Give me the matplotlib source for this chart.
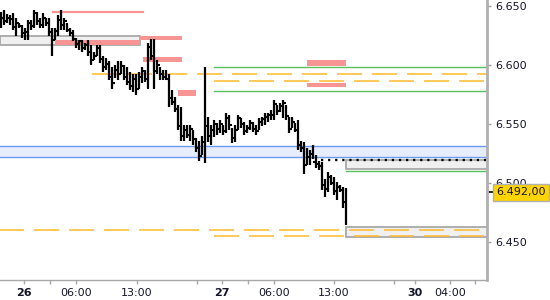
import matplotlib
matplotlib.use('Agg')
import matplotlib.pyplot as plt
from matplotlib.patches import Rectangle
import matplotlib.transforms as mtransforms

plt.rcParams['lines.scale_dashes'] = False
plt.rcParams['font.family'] = ['DejaVu Sans']

# ---------------- data (OHLC, 20-min bars) ----------------
opens = [6633,6640,6637,6640,6639,6632,6636,6633,6627,6628,
         6636,6633,6644,6637,6634,6640,6636,6628,6621,6629,
         6638,6634,6637,6630,6627,6622,6618,6620,6614,6617,
         6611,6604,6608,6614,6605,6598,6601,6590,6585,6596,
         6592,6599,6590,6586,6582,6588,6580,6590,6595,6588,
         6615,6608,6595,6600,6592,6590,6588,6572,6569,6563,
         6548,6540,6545,6541,6546,6537,6530,6523,6535,6548,
         6540,6545,6550,6546,6550,6544,6555,6549,6538,6545,
         6555,6550,6544,6547,6551,6546,6544,6552,6554,6556,
         6558,6558,6567,6561,6565,6568,6557,6546,6552,6545,
         6532,6530,6515,6522,6525,6518,6516,6514,6498,6495,
         6505,6500,6493,6497,6494,6484]
highs = [6645,6647,6643,6642,6644,6640,6636,6634,6631,6638,
         6638,6647,6645,6640,6644,6640,6640,6631,6631,6642,
         6647,6640,6636,6631,6630,6623,6621,6621,6619,6621,
         6617,6611,6617,6617,6608,6606,6603,6598,6600,6603,
         6603,6600,6598,6594,6592,6592,6594,6598,6596,6619,
         6622,6622,6604,6598,6596,6596,6592,6579,6573,6566,
         6564,6549,6549,6549,6545,6538,6536,6540,6598,6556,
         6549,6553,6551,6553,6549,6559,6558,6547,6549,6558,
         6555,6552,6549,6553,6552,6549,6555,6556,6559,6559,
         6562,6570,6566,6568,6570,6566,6556,6556,6551,6553,
         6536,6535,6530,6528,6532,6524,6519,6518,6503,6509,
         6507,6505,6501,6498,6497,6496]
lows = [6631,6634,6636,6634,6630,6625,6631,6623,6621,6621,
        6630,6631,6634,6631,6631,6633,6625,6608,6621,6625,
        6630,6630,6628,6625,6620,6614,6613,6611,6613,6608,
        6600,6604,6608,6602,6594,6596,6587,6580,6589,6587,
        6592,6587,6583,6579,6577,6575,6580,6585,6586,6580,
        6604,6580,6592,6587,6587,6587,6564,6566,6560,6545,
        6536,6536,6538,6536,6532,6526,6519,6524,6517,6535,
        6532,6539,6541,6542,6541,6542,6545,6534,6535,6545,
        6547,6541,6542,6545,6543,6541,6545,6548,6549,6552,
        6553,6553,6558,6560,6555,6553,6542,6547,6543,6528,
        6526,6508,6515,6515,6520,6513,6511,6494,6488,6492,
        6498,6490,6486,6492,6479,6464]
closes = [6642,6636,6641,6639,6632,6637,6633,6626,6629,6636,
          6633,6645,6637,6634,6641,6636,6628,6620,6629,6638,
          6634,6638,6630,6627,6622,6618,6620,6613,6617,6611,
          6604,6608,6614,6605,6598,6602,6590,6584,6596,6592,
          6600,6590,6586,6582,6588,6580,6590,6595,6588,6615,
          6608,6595,6600,6592,6590,6588,6572,6569,6563,6548,
          6540,6545,6541,6546,6538,6530,6523,6535,6548,6540,
          6545,6550,6546,6551,6544,6555,6549,6538,6545,6555,
          6550,6544,6547,6551,6546,6544,6552,6554,6556,6558,
          6560,6567,6561,6565,6568,6557,6546,6552,6545,6532,
          6530,6515,6522,6525,6518,6516,6514,6498,6495,6505,
          6500,6493,6497,6494,6484,6492]

last_price = 6492.0
last_label = '6.492,00'

xtick_pos = [7.67, 16.33, 25, 45.33, 65.33, 73.67, 82.33, 91, 111, 131, 138, 149.67, 158]
xtick_lab = ['26', '', '06:00', '13:00', '', '27', '', '06:00', '13:00', '', '30', '04:00', '']
day_labels = ['26', '27', '30']

ytick_pos = [6450, 6500, 6550, 6600, 6650]
ytick_lab = ['6.450', '6.500', '6.550', '6.600', '6.650']

# zones: (x_start, x_end, y_low, y_high)
grey_zones = [(-0.5, 46.33, 6617.0, 6624.6),
              (115.0, 170, 6511.7, 6519.2),
              (115.0, 170, 6454.1, 6462.6)]
salmon_zones = [(18.0, 46.33, 6617.0, 6621.2),
                (46.33, 60.33, 6621.2, 6624.6),
                (47.33, 60.33, 6602.5, 6606.8),
                (59.0, 65.0, 6573.7, 6578.8),
                (102.0, 115.0, 6599.2, 6604.2),
                (102.0, 115.0, 6581.4, 6584.7)]
salmon_line = (17.33, 47.33, 6645.0)
blue_zone = (-0.5, 170, 6522.0, 6531.3)
orange_lines = [(30.33, 170, 6592.4), (71.0, 170, 6586.4),
                (-4.0, 170, 6460.2), (71.0, 170, 6455.1)]
green_lines = [(71.0, 170, 6598.0), (71.0, 170, 6578.0), (115.0, 170, 6510.2)]
dotted_line = (106.67, 170, 6519.8)

# ---------------- figure ----------------
fig = plt.figure(figsize=(5.5, 3), dpi=100)
ax = fig.add_axes([0, 20 / 300, 487 / 550, 280 / 300])
ax.set_xlim(-1 / 3, 162)
ax.set_ylim(6417.8, 6655.1)

# blue band
x0, x1, y0, y1 = blue_zone
ax.add_patch(Rectangle((x0, y0), x1 - x0, y1 - y0, facecolor='#e6edfc', edgecolor='none', zorder=1))
ax.plot([x0, x1], [y0, y0], color='#6b9bf0', lw=1.0, zorder=1.5)
ax.plot([x0, x1], [y1, y1], color='#6b9bf0', lw=1.0, zorder=1.5)

for (x0, x1, y0, y1) in grey_zones:
    ax.add_patch(Rectangle((x0, y0), x1 - x0, y1 - y0, facecolor='#f0f0f0',
                           edgecolor='#a8a8a8', lw=1.3, zorder=1))

for (x0, x1, y0, y1) in salmon_zones:
    ax.add_patch(Rectangle((x0, y0), x1 - x0, y1 - y0, facecolor='#f79494',
                           edgecolor='none', zorder=1.6))
ax.plot([salmon_line[0], salmon_line[1]], [salmon_line[2]] * 2, color='#f79494', lw=1.6, zorder=1.6)

for (x0, x1, y) in orange_lines:
    ax.plot([x0, x1], [y, y], color='#ffb92e', lw=1.1, dashes=(18, 7.2), zorder=1.7)
for (x0, x1, y) in green_lines:
    ax.plot([x0, x1], [y, y], color='#5cbf5c', lw=1.0, zorder=1.7)
x0, x1, y = dotted_line
ax.plot([x0, x1], [y, y], color='black', lw=1.7, dashes=(1.6, 3.5), zorder=1.8)

# OHLC bars
xs = list(range(len(opens)))
tick = 0.5
ax.vlines(xs, lows, highs, color='black', lw=1.6, zorder=3)
ax.hlines(opens, [x - tick for x in xs], xs, color='black', lw=1.5, zorder=3)
ax.hlines(closes, xs, [x + tick for x in xs], color='black', lw=1.5, zorder=3)

# axes styling
for s in ['top', 'left']:
    ax.spines[s].set_visible(False)
ax.spines['right'].set_color('#b0b0b0')
ax.spines['right'].set_linewidth(2.0)
ax.spines['bottom'].set_color('#a8a8a8')
ax.spines['bottom'].set_linewidth(1.0)

ax.yaxis.tick_right()
ax.set_yticks(ytick_pos)
ax.set_yticklabels(ytick_lab)
ax.tick_params(axis='y', length=3, width=1, color='#a0a0a0', pad=3, labelsize=8, labelcolor='#15152a')
ax.set_xticks(xtick_pos)
ax.set_xticklabels(xtick_lab)
ax.tick_params(axis='x', length=3, width=1, color='#a8a8a8', pad=2.5, labelsize=8, labelcolor='#15152a')
for t in ax.get_xticklabels():
    if t.get_text() in day_labels:
        t.set_fontweight('bold')

# last price marker and label (covers the 6.500 label, as in the reference)
trans = mtransforms.blended_transform_factory(ax.transAxes, ax.transData)
ax.plot([1.004, 1.012], [last_price, last_price], color='black', lw=1.2, transform=trans, clip_on=False)
ax.text(1.019, last_price, last_label, transform=trans, va='center', ha='left', fontsize=8,
        color='#15152a', zorder=10, clip_on=False,
        bbox=dict(boxstyle='square,pad=0.32', facecolor='#ffd400', edgecolor='#b0b0b0', lw=1))

fig.savefig('out.png', dpi=100, facecolor='white')
